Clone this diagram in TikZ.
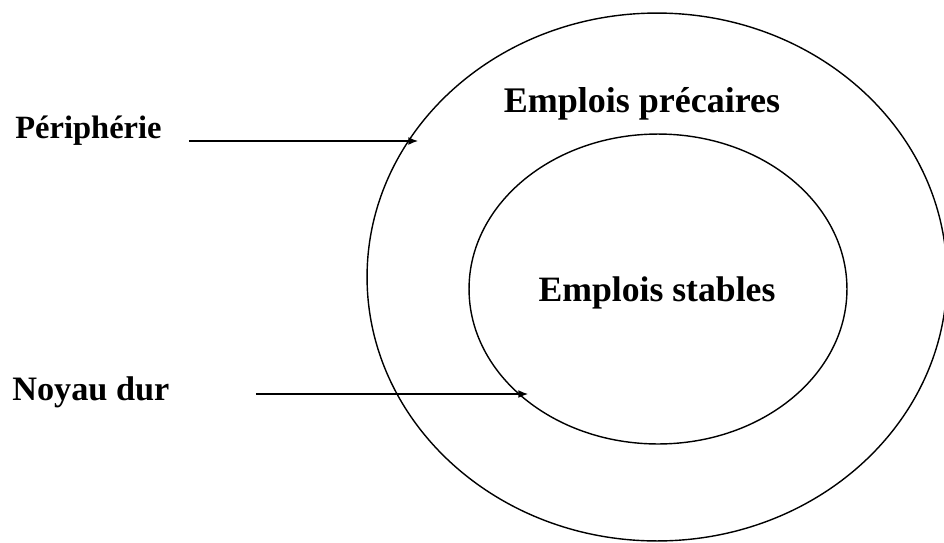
\documentclass[tikz,border=0pt]{standalone}
\usepackage{fontspec}
\setmainfont{Liberation Serif}
\usepackage{tikz}
\usetikzlibrary{shapes}
\usetikzlibrary{calc}
\usetikzlibrary{arrows.meta}
\tikzset{ring/.style={ellipse, draw, line width=.8pt, inner sep=0pt}}
\tikzset{lab/.style={font=\bfseries\fontsize{18.5}{20}\selectfont, inner sep=0pt}}
\tikzset{biglab/.style={lab, font=\bfseries\fontsize{20.3}{22}\selectfont}}
\tikzset{pointer/.style={-{Latex[length=5.5pt,width=4.5pt]}, line width=.8pt}}

\begin{document}
\begin{tikzpicture}[x=0.02cm,y=-0.02cm]
  \useasboundingbox (0,0) rectangle (944,542);
  \node[ring, minimum width=11.6cm, minimum height=10.56cm] (outer) at (657,277) {};
  \node[ring, minimum width=7.56cm, minimum height=6.2cm] (inner) at (658,289) {};
  \node[biglab, anchor=base, font=\bfseries\fontsize{20.5}{22}\selectfont] (prec) at (642,112) {Emplois précaires};
  \node[biglab, anchor=base] (stab) at (657,301) {Emplois stables};
  \node[lab, anchor=base west] (peri) at (15,138) {Périphérie};
  \node[lab, anchor=base west, font=\bfseries\fontsize{19.5}{21}\selectfont] (noyau) at (12,400) {Noyau dur};
  \coordinate (periTip) at (418,141);
  \coordinate (noyauTip) at (528,394);
  \draw[pointer] ($(peri.base east)+(27,3)$) -- (periTip);
  \draw[pointer] ($(noyau.base east)+(86,-6)$) -- (noyauTip);
\end{tikzpicture}
\end{document}
